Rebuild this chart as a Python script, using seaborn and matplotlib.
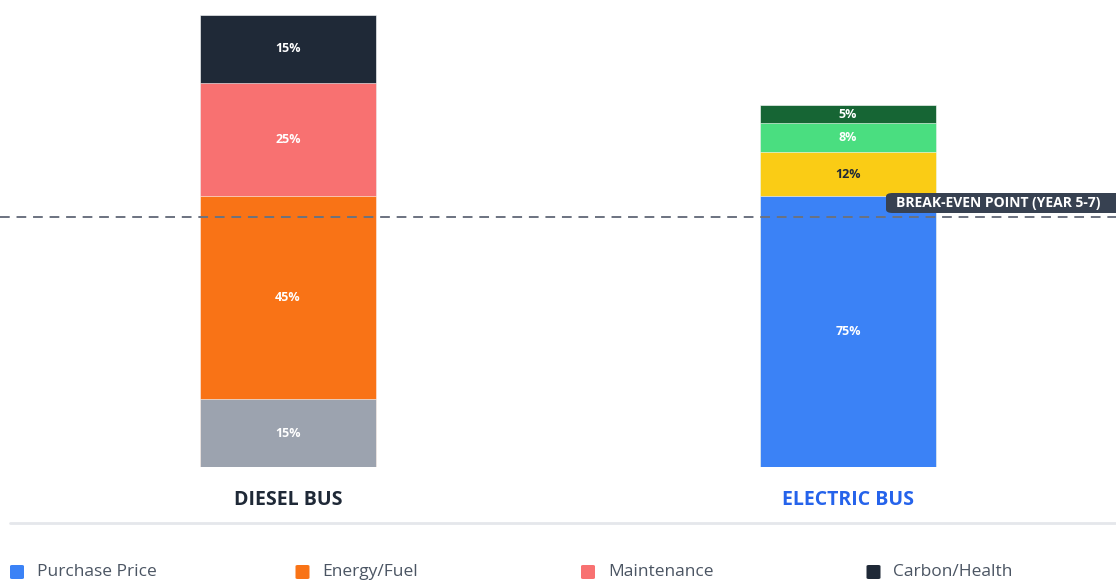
import numpy as np
import matplotlib.pyplot as plt
import seaborn as sns
from matplotlib.patches import FancyBboxPatch

# data
buses = ["DIESEL BUS", "ELECTRIC BUS"]
bus_totals = [100, 80]  # relative lifetime cost, diesel = 100
diesel_shares = [15, 45, 25, 15]
electric_shares = [75, 12, 8, 5]
diesel_colors = ["#9CA3AF", "#F97316", "#F87171", "#1F2937"]
electric_colors = ["#3B82F6", "#FACC15", "#4ADE80", "#166534"]
electric_label_colors = ["white", "#1F2937", "white", "white"]
break_even = 55.3
break_even_label = "BREAK-EVEN POINT (YEAR 5-7)"
legend_labels = ["Purchase Price", "Energy/Fuel", "Maintenance", "Carbon/Health"]
legend_colors = ["#3B82F6", "#F97316", "#F87171", "#1F2937"]

W, H = 1116, 581
fig = plt.figure(figsize=(W / 100, H / 100), dpi=100)
sns.set_style("white")
plt.rcParams['font.family'] = ['Open Sans', 'DejaVu Sans']

# axes spanning the plot area: value 0 at y=467px, 100 at y=15px
ax = fig.add_axes([0, (H - 467) / H, 1, (467 - 15) / H])

diesel_abs = np.array(diesel_shares) * bus_totals[0] / 100
electric_abs = np.array(electric_shares) * bus_totals[1] / 100
diesel_cum = np.cumsum(diesel_abs)
electric_cum = np.cumsum(electric_abs)

# overlay cumulative bars from the top layer down
for k in range(len(diesel_shares) - 1, -1, -1):
    sns.barplot(x=buses, y=[diesel_cum[k], electric_cum[k]], hue=buses,
                palette=[diesel_colors[k], electric_colors[k]], legend=False,
                width=176 / 560, saturation=1, ax=ax, order=buses,
                edgecolor="white", linewidth=0.4)
ax.set_xlim(-288 / 560, (W - 288) / 560)
ax.set_ylim(0, 100)
ax.axis("off")

# segment labels
for i, (abs_vals, cum, shares) in enumerate([(diesel_abs, diesel_cum, diesel_shares),
                                              (electric_abs, electric_cum, electric_shares)]):
    for k in range(len(shares)):
        mid = cum[k] - abs_vals[k] / 2
        col = "white" if i == 0 else electric_label_colors[k]
        ax.text(i, mid, f"{shares[k]}%", ha="center", va="center",
                color=col, fontsize=9, fontweight="bold")

# break-even line
ax.axhline(break_even, color="#6B7280", linestyle=(0, (5, 3.5)), linewidth=1.4)
fig.patches.append(FancyBboxPatch((886 / W, (H - 213) / H), 260 / W, 20 / H,
                                  boxstyle="round,pad=0,rounding_size=0.006",
                                  transform=fig.transFigure, facecolor="#374151",
                                  edgecolor="none"))
fig.text(896 / W, (H - 203.5) / H, break_even_label, color="white", fontsize=10,
         fontweight="bold", va="center", ha="left")

# category labels
fig.text(288 / W, (H - 500) / H, buses[0], ha="center", va="center",
         fontsize=14, fontweight="bold", color="#1F2937")
fig.text(848 / W, (H - 500) / H, buses[1], ha="center", va="center",
         fontsize=14, fontweight="bold", color="#2563EB")

# separator
fig.add_artist(plt.Line2D([10 / W, 1], [(H - 523) / H] * 2, color="#E5E7EB",
                          linewidth=2, transform=fig.transFigure))

# legend
for j, (lab, col) in enumerate(zip(legend_labels, legend_colors)):
    x0 = 10 + j * 285.5
    fig.patches.append(FancyBboxPatch((x0 / W, (H - 579) / H), 14 / W, 14 / H,
                                      boxstyle="round,pad=0,rounding_size=0.002",
                                      transform=fig.transFigure, facecolor=col,
                                      edgecolor="none"))
    fig.text((x0 + 27) / W, (H - 572) / H, lab, ha="left", va="center",
             fontsize=12.5, color="#4B5563")

fig.savefig("out.png", dpi=100)
